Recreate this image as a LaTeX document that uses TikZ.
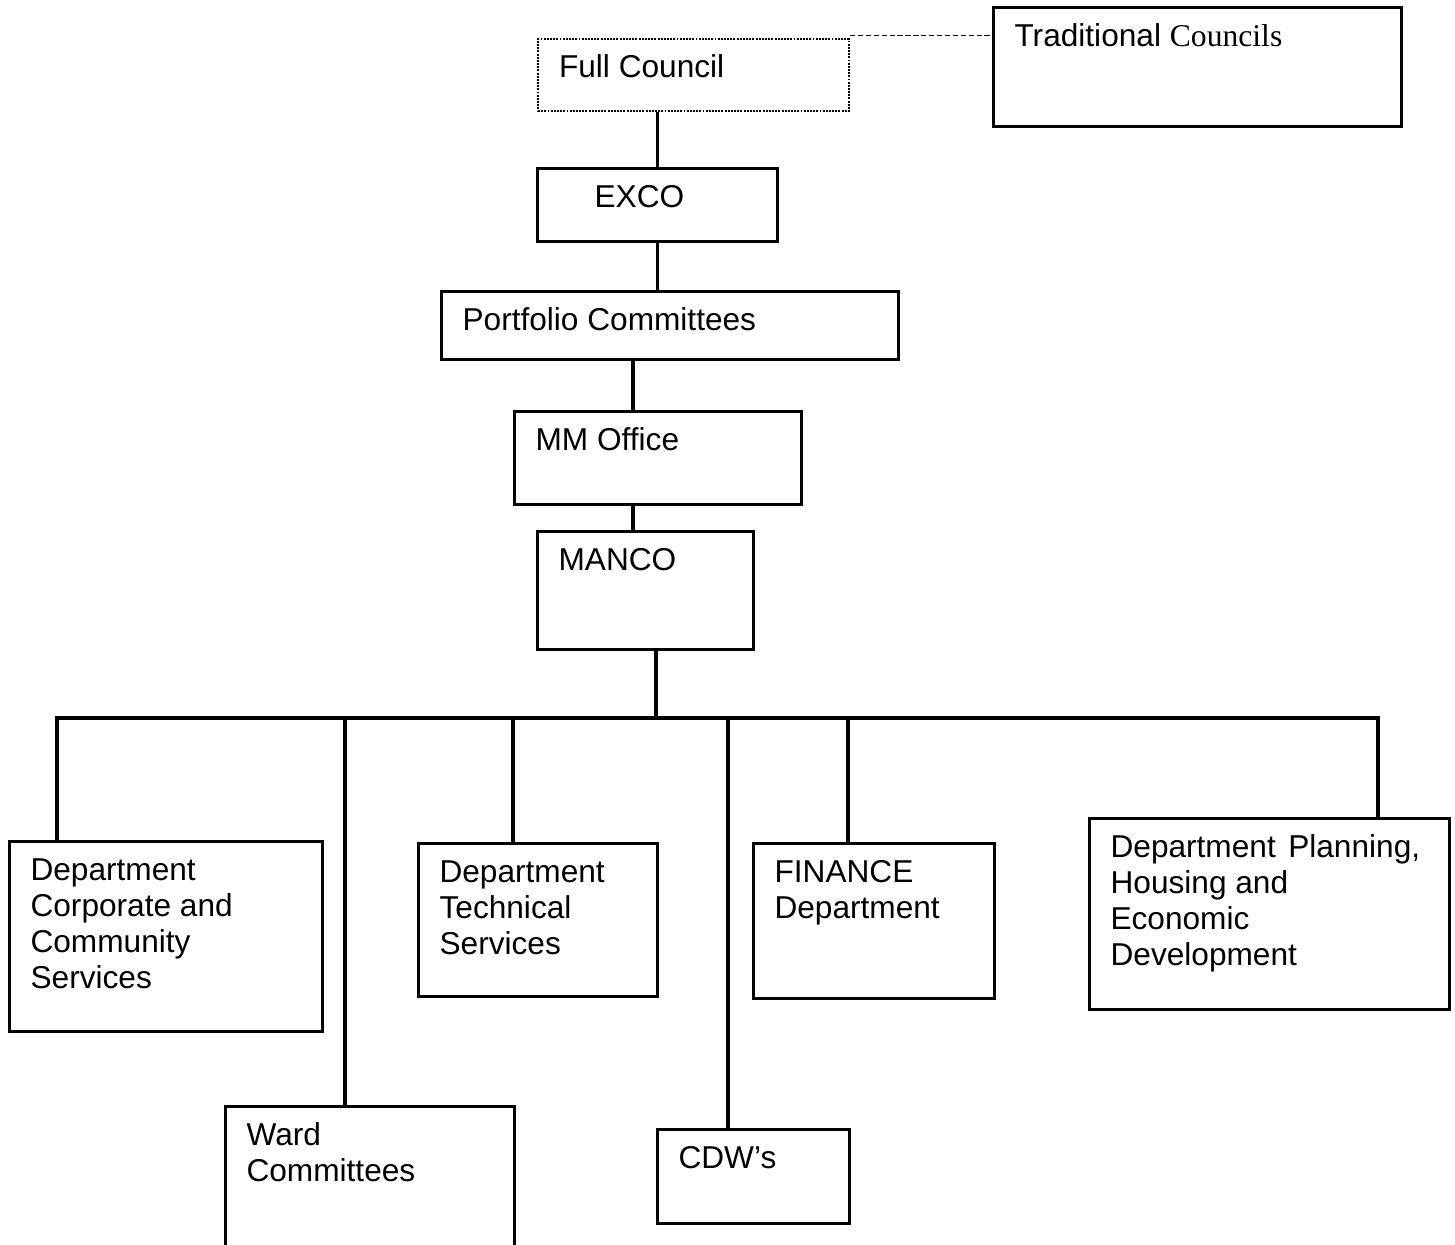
\documentclass[tikz,border=0pt]{standalone}
\usepackage{fontspec}
\usepackage{tikz}
\setmainfont{Liberation Sans}
\newfontfamily\romanfont{Liberation Serif}
\newcommand{\unitbox}[3]{%
  \begin{minipage}[t][#2][t]{#1}%
    \fontsize{18}{20.6}\selectfont\leftskip=0.42cm
    \rule{0pt}{0.77cm}#3%
  \end{minipage}}

\begin{document}
\begin{tikzpicture}[x=0.02cm, y=-0.02cm,
    unit/.style={draw, line width=1.8pt, inner sep=0pt, anchor=north west},
    link/.style={line width=1.8pt}]
\clip (0,0) rectangle (1455,1245);

% council side
\node[unit, line width=1.2pt, dash pattern=on 1.1pt off 0.7pt] (fullcouncil) at (537,38)
    {\unitbox{6.22cm}{1.44cm}{Full Council}};
\node[unit] (tradcouncil) at (992,6)
    {\unitbox{8.16cm}{2.38cm}{Traditional {\romanfont Councils}}};
\node[unit] (exco) at (536,167)
    {\unitbox{4.8cm}{1.46cm}{\hspace*{0.72cm}EXCO}};
\node[unit] (portfolio) at (440,290)
    {\unitbox{9.14cm}{1.36cm}{Portfolio Committees}};

% administration
\node[unit] (mmoffice) at (513,410)
    {\unitbox{5.74cm}{1.86cm}{MM Office}};
\node[unit] (manco) at (536,530)
    {\unitbox{4.32cm}{2.36cm}{MANCO}};

% departments and units
\node[unit] (corporate) at (8,840)
    {\unitbox{6.26cm}{3.8cm}{Department\\Corporate and\\Community\\Services}};
\node[unit] (technical) at (417,842)
    {\unitbox{4.78cm}{3.06cm}{Department\\Technical\\Services}};
\node[unit] (finance) at (752,842)
    {\unitbox{4.82cm}{3.1cm}{FINANCE\\Department}};
\node[unit] (planning) at (1088,817)
    {\unitbox{7.2cm}{3.82cm}{Department\hspace{0.25cm}Planning,\\Housing and\\Economic\\Development}};
\node[unit] (ward) at (224,1105)
    {\unitbox{5.78cm}{3.4cm}{Ward\\Committees}};
\node[unit] (cdw) at (656,1128)
    {\unitbox{3.84cm}{1.88cm}{CDW’s}};

% connectors
\coordinate (midline) at (633,0);
\coordinate (spine) at (656,718);
\draw[line width=0.9pt, dash pattern=on 3pt off 1.5pt]
    ([yshift=1.5pt]fullcouncil.north east) -- ([yshift=1.5pt]tradcouncil.west |- fullcouncil.north east);
\draw[link] (exco.north |- fullcouncil.south) -- (exco.north);
\draw[link] (exco.south) -- (exco.south |- portfolio.north);
\draw[link] (portfolio.south -| midline) -- (mmoffice.north -| midline);
\draw[link] (mmoffice.south -| midline) -- (manco.north -| midline);
\draw[link] (manco.south -| spine) -- (spine);
\foreach \name/\x in {corporate/57, ward/345, technical/513, cdw/728, finance/848, planning/1378}{
  \coordinate (tap-\name) at (\x,718);
  \draw[link] (tap-\name) -- (\name.north -| tap-\name);
}
\draw[link, line cap=rect] (tap-corporate) -- (tap-planning);
\end{tikzpicture}
\end{document}
